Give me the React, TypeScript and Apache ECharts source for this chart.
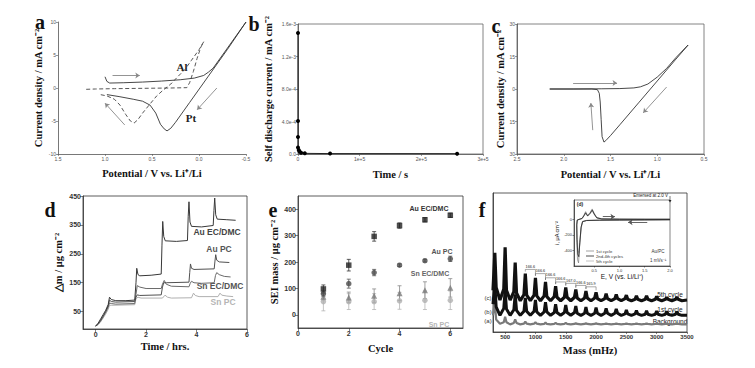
import React, { useEffect, useRef } from "react";
import * as echarts from "echarts";

const SERIF = "'Liberation Serif', 'Times New Roman', serif";
const SANS = "'Liberation Sans', Arial, sans-serif";

// ---------- Panel a : CV of Pt and Al ----------
const aPt: number[][] = [
  [1.0, 1.7], [0.98, 1.0], [0.95, 0.75], [0.8, 0.8], [0.6, 0.9], [0.4, 1.05], [0.2, 1.25], [0.05, 1.5],
  [-0.05, 1.9], [-0.1, 2.4], [-0.15, 3.0], [-0.25, 5.0], [-0.35, 7.0], [-0.5, 10.0],
  [-0.3, 5.8], [-0.1, 1.8], [0.1, -2.2], [0.25, -5.2], [0.3, -6.1], [0.34, -6.5], [0.37, -6.2],
  [0.41, -5.5], [0.46, -3.8], [0.52, -2.6], [0.6, -2.0], [0.7, -1.7], [0.85, -1.3], [0.98, -1.0],
];
const aAl: number[][] = [
  [1.2, -0.2], [1.1, -0.15], [0.9, -0.1], [0.6, -0.05], [0.3, 0], [0.13, 0.05], [0.1, 0.8], [0.06, 2.5],
  [0.02, 4.5], [-0.02, 6.2], [-0.05, 7.0], [0.0, 5.8], [0.08, 4.2], [0.15, 2.8], [0.22, 1.8], [0.3, 0.6],
  [0.38, -0.3], [0.45, -1.2], [0.52, -2.4], [0.6, -3.8], [0.65, -4.8], [0.69, -5.3], [0.73, -5.0],
  [0.78, -4.0], [0.84, -2.6], [0.9, -1.7], [0.98, -1.2], [1.05, -1.0],
];
const aArrows: number[][][] = [
  [[0.92, 1.9], [0.63, 1.9]],
  [[-0.19, 0.0], [0.02, -3.3]],
  [[0.79, -5.6], [1.0, -2.3]],
];
const aXTicks = [-0.5, 0, 0.5, 1.0, 1.5];
const aXLabels = ["-0.5", "0.0", "0.5", "1.0", "1.5"];
const aYTicks = [-10, -5, 0, 5, 10];
const aYLabels = ["-10", "-5", "0", "5", "10"];

// ---------- Panel b : self discharge ----------
const bPoints: number[][] = [
  [0, 1.49e-3], [0, 4.06e-4], [0, 2.1e-4], [0, 8e-5], [1200, 5e-5], [2500, 3e-5], [5000, 1.5e-5],
  [11000, 8e-6], [52000, 5e-6], [258000, 4e-6],
];
const bXTicks = [0, 1e5, 2e5, 3e5];
const bXLabels = ["0", "1e+5", "2e+5", "3e+5"];
const bYTicks = [0, 4e-4, 8e-4, 1.2e-3, 1.6e-3];
const bYLabels = ["0.0", "4.0e-4", "8.0e-4", "1.2e-3", "1.6e-3"];

// ---------- Panel c : CV ----------
const cCurve: number[][] = [
  [2.15, 0], [1.9, 0], [1.6, 0.1], [1.4, 0.2], [1.25, 0.5], [1.18, 1.0], [1.1, 2.3], [1.0, 5.5],
  [0.9, 9.5], [0.8, 14.5], [0.67, 20.3], [0.8, 13.8], [1.0, 3.7], [1.2, -6.4], [1.4, -16.5],
  [1.5, -21.5], [1.55, -23.8], [1.57, -24.5], [1.59, -22], [1.6, -14], [1.61, -6], [1.62, -2],
  [1.64, -0.3], [1.7, 0], [2.15, 0],
];
const cArrows: number[][][] = [
  [[1.9, 2.8], [1.43, 2.8]],
  [[0.9, 0.9], [1.15, -11]],
  [[1.69, -19], [1.71, -6.5]],
];
const cXTicks = [0.5, 1.0, 1.5, 2.0, 2.5];
const cXLabels = ["0.5", "1.0", "1.5", "2.0", "2.5"];
const cYTicks = [-30, -15, 0, 15, 30];
const cYLabels = ["30", "15", "0", "15", "30"];

// ---------- Panel d : mass change vs time ----------
const dAuEC: number[][] = [
  [0, 0], [0.1, 10], [0.2, 25], [0.3, 40], [0.4, 55], [0.5, 75], [0.55, 100], [0.62, 92], [0.8, 88],
  [1.2, 88], [1.55, 90], [1.6, 150], [1.63, 200], [1.68, 178], [1.75, 174], [2.2, 176], [2.6, 180],
  [2.63, 280], [2.66, 362], [2.7, 310], [2.76, 295], [3.2, 293], [3.64, 296], [3.67, 380], [3.7, 430],
  [3.74, 360], [3.8, 345], [4.2, 343], [4.66, 348], [4.69, 400], [4.72, 443], [4.76, 385], [4.82, 370],
  [5.2, 368], [5.55, 366],
];
const dAuPC: number[][] = [
  [0, 0], [0.1, 8], [0.2, 20], [0.3, 35], [0.4, 50], [0.5, 70], [0.55, 90], [0.62, 85], [0.8, 83],
  [1.55, 85], [1.6, 100], [1.65, 108], [1.75, 106], [2.6, 108], [2.65, 135], [2.7, 150], [2.8, 150],
  [3.7, 152], [3.73, 185], [3.76, 215], [3.8, 200], [3.9, 196], [4.7, 198], [4.73, 225], [4.76, 247],
  [4.8, 228], [4.9, 222], [5.3, 220],
];
const dSnEC: number[][] = [
  [0, 0], [0.1, 6], [0.2, 18], [0.3, 32], [0.4, 48], [0.5, 65], [0.55, 80], [0.62, 78], [0.8, 76],
  [1.55, 78], [1.6, 110], [1.65, 140], [1.75, 135], [2.0, 130], [2.6, 130], [2.65, 145], [2.72, 158],
  [2.8, 145], [3.0, 138], [3.7, 136], [3.75, 148], [3.8, 155], [3.9, 150], [4.2, 148], [4.7, 150],
  [4.75, 175], [4.8, 185], [4.9, 178], [5.1, 172], [5.35, 170],
];
const dSnPC: number[][] = [
  [0, 0], [0.1, 5], [0.2, 15], [0.3, 28], [0.4, 42], [0.5, 58], [0.55, 72], [0.62, 72], [1.55, 74],
  [1.6, 95], [1.68, 100], [1.8, 97], [2.65, 97], [2.75, 107], [2.85, 100], [3.0, 97], [3.8, 98],
  [3.88, 114], [3.95, 106], [4.1, 102], [4.85, 102], [4.93, 114], [5.0, 107], [5.2, 104], [5.45, 102],
];
const dXTicks = [0, 2, 4, 6];
const dXLabels = ["0", "2", "4", "6"];
const dYTicks = [50, 150, 250, 350, 450];
const dYLabels = ["50", "150", "250", "350", "450"];

// ---------- Panel e : SEI mass vs cycle ----------
const eCycles = [1, 2, 3, 4, 5, 6];
const eAuEC = [98, 188, 297, 338, 360, 377];
const eAuECErr = [15, 22, 18, 10, 8, 8];
const eAuPC = [80, 118, 160, 188, 205, 212];
const eAuPCErr = [10, 17, 12, 5, 5, 10];
const eSnEC = [68, 66, 72, 82, 93, 102];
const eSnECErr = [12, 20, 26, 28, 32, 35];
const eSnPC = [50, 50, 50, 53, 55, 55];
const eSnPCErr = [35, 30, 30, 32, 35, 35];
const eXTicks = [0, 2, 4, 6];
const eXLabels = ["0", "2", "4", "6"];
const eYTicks = [0, 100, 200, 300, 400];
const eYLabels = ["0", "100", "200", "300", "400"];

// ---------- Panel f : EQCM spectrum (mass axis, arbitrary intensity) ----------
const fMass = [
  300, 330, 352, 415,
  478, 500, 522, 583,
  644, 666, 688, 750,
  811, 833, 855, 916,
  978, 1000, 1022, 1083,
  1144, 1166, 1188, 1250,
  1311, 1333, 1355, 1416,
  1478, 1500, 1522, 1583,
  1644, 1666, 1688, 1750,
  1811, 1833, 1855, 1916,
  1978, 2000, 2022, 2083,
  2144, 2166, 2188, 2250,
  2311, 2333, 2355, 2416,
  2478, 2500, 2522, 2583,
  2644, 2666, 2688, 2750,
  2811, 2833, 2855, 2916,
  2978, 3000, 3022, 3083,
  3144, 3166, 3188, 3250,
  3311, 3333, 3355, 3416,
  3500,
];
const f5th = [
  30, 57, 32, 23,
  31, 61, 30, 23,
  29, 50, 28, 22.5,
  27, 42, 26.5, 22.5,
  26.5, 39, 26, 22.5,
  26, 36, 25.5, 22.5,
  25.5, 33, 25, 22.5,
  25, 32, 25, 22.5,
  25, 30.5, 24.5, 22.5,
  24.5, 29.5, 24.5, 22.5,
  24.5, 28.5, 24, 22.5,
  24, 27.5, 24, 22.5,
  24, 27, 24, 22.5,
  24, 26.5, 23.5, 22.5,
  23.5, 26, 23.5, 22.5,
  23.5, 26, 23.5, 22.5,
  23.5, 25.5, 23.5, 22.5,
  23.5, 25, 23.5, 22.5,
  23.5, 25, 23.5, 22.5,
  23,
];
const f1st = [
  20, 35, 18, 12,
  17, 30, 16.5, 12,
  16, 27, 15.5, 12,
  15, 24.5, 15, 12,
  15, 23, 14.5, 12,
  14.5, 21.5, 14.5, 12,
  14, 20, 14, 12,
  14, 19.5, 14, 12,
  14, 18.7, 13.5, 12,
  13.5, 18, 13.5, 12,
  13.5, 17.5, 13.5, 12,
  13.5, 17, 13.5, 12,
  13.5, 16.5, 13.5, 12,
  13, 15.8, 13, 12,
  13, 15.5, 13, 12,
  12.8, 15.2, 12.8, 12,
  12.8, 15, 12.8, 12,
  12.8, 14.8, 12.8, 12,
  12.8, 14.5, 12.8, 12,
  12,
];
const fBg = [
  12, 22, 9, 6,
  7, 11, 7, 5.5,
  6.5, 9, 6.5, 5.5,
  6, 7.5, 6, 5.5,
  6, 7, 6, 5.5,
  5.8, 6.8, 5.8, 5.5,
  5.8, 6.5, 5.8, 5.5,
  5.8, 6.5, 5.8, 5.5,
  5.8, 6.3, 5.8, 5.5,
  5.8, 6.2, 5.8, 5.5,
  5.8, 6.2, 5.8, 5.5,
  5.8, 6, 5.8, 5.5,
  5.8, 6, 5.8, 5.5,
  5.8, 6, 5.8, 5.5,
  5.8, 6, 5.8, 5.5,
  5.8, 6, 5.8, 5.5,
  5.8, 6, 5.8, 5.5,
  5.8, 6, 5.8, 5.5,
  5.8, 6, 5.8, 5.5,
  5.5,
];
const fSpacingFrom = [833, 1000, 1166, 1333, 1500, 1666, 1833];
const fSpacingTo = [1000, 1166, 1333, 1500, 1666, 1833, 2000];
const fSpacingLabels = ["166.6", "166.6", "166.6", "166.6", "167.0", "166.6", "165.9"];
const fXTicks = [500, 1000, 1500, 2000, 2500, 3000, 3500];
const fXLabels = ["500", "1000", "1500", "2000", "2500", "3000", "3500"];

// ---------- Panel f inset : CV on Au/PC ----------
const in1st: number[][] = [
  [2.0, -6], [1.5, -8], [1.0, -10], [0.6, -12], [0.35, -15], [0.27, -30], [0.24, -120], [0.21, -350],
  [0.19, -560], [0.17, -520], [0.155, -300], [0.15, -80], [0.16, -10], [0.2, 0], [0.26, 15], [0.3, 60],
  [0.33, 100], [0.37, 50], [0.42, 90], [0.46, 135], [0.5, 80], [0.55, 25], [0.65, 8], [1.0, 4], [1.5, 3], [2.0, 3],
];
const in2to4: number[][] = [
  [2.0, -4], [1.5, -6], [1.0, -8], [0.6, -10], [0.35, -14], [0.27, -28], [0.24, -100], [0.215, -300],
  [0.195, -480], [0.175, -450], [0.16, -260], [0.155, -70], [0.165, -8], [0.2, 0], [0.26, 12], [0.3, 50],
  [0.33, 85], [0.37, 45], [0.42, 80], [0.46, 120], [0.5, 70], [0.55, 20], [0.65, 6], [1.0, 3], [1.5, 2], [2.0, 2],
];
const in5th: number[][] = [
  [2.0, -2], [1.5, -4], [1.0, -6], [0.6, -8], [0.35, -12], [0.27, -25], [0.245, -90], [0.22, -260],
  [0.2, -430], [0.18, -400], [0.165, -230], [0.16, -60], [0.17, -6], [0.2, 0], [0.26, 10], [0.3, 45],
  [0.33, 75], [0.37, 40], [0.42, 70], [0.46, 110], [0.5, 60], [0.55, 18], [0.65, 5], [1.0, 2], [1.5, 1], [2.0, 1],
];
const inArrows: number[][][] = [
  [[0.67, 35], [0.91, 35]],
  [[1.55, -35], [1.17, -35]],
];
const inXTicks = [0.5, 1.0, 1.5, 2.0];
const inXLabels = ["0.5", "1.0", "1.5", "2.0"];
const inYTicks = [-400, -200, 0];
const inYLabels = ["-400", "-200", "0"];
const inLegend = ["1st cycle", "2nd-4th cycles", "5th cycle"];

// ---------- helpers ----------
const labelFor = (ticks: number[], labels: string[]) => (v: number) => {
  let best = 0;
  for (let i = 1; i < ticks.length; i++) {
    if (Math.abs(ticks[i] - v) < Math.abs(ticks[best] - v)) best = i;
  }
  return labels[best];
};

type AxOpt = {
  min: number; max: number; ticks?: number[]; labels?: string[]; inverse?: boolean;
  name?: string; nameGap?: number; vertical?: boolean; color?: string; fontSize?: number;
  bold?: boolean; showLabels?: boolean; showTicks?: boolean; tickLen?: number; nameSize?: number; nameFont?: string; nameWeight?: string;
};
const mkAxis = (gridIndex: number, o: AxOpt) => {
  const color = o.color || "#555";
  const ax: any = {
    gridIndex, type: "value", min: o.min, max: o.max, inverse: !!o.inverse,
    splitLine: { show: false },
    axisLine: { show: true, onZero: false, lineStyle: { color, width: 0.8 } },
    axisTick: {
      show: o.showTicks !== false, length: o.tickLen || 2, lineStyle: { color, width: 0.6 },
      customValues: o.ticks,
    },
    axisLabel: {
      show: o.showLabels !== false, fontSize: o.fontSize || 5, color, fontFamily: SANS,
      fontWeight: o.bold ? "bold" : "normal", margin: 2,
      customValues: o.ticks,
      formatter: o.ticks && o.labels ? labelFor(o.ticks, o.labels) : undefined,
    },
  };
  if (o.name) {
    ax.name = o.name;
    ax.nameLocation = "middle";
    ax.nameGap = o.nameGap ?? 15;
    if (o.vertical) ax.nameRotate = 90;
    ax.nameTextStyle = {
      fontFamily: o.nameFont || SERIF, fontWeight: o.nameWeight || "bold", fontSize: o.nameSize || 10.5, color: "#111",
    };
  }
  return ax;
};

const lineS = (xi: number, data: number[][], color: string, width = 1, dashed = false, extra: any = {}) => ({
  type: "line", xAxisIndex: xi, yAxisIndex: xi, data, showSymbol: false, symbol: "none",
  lineStyle: { color, width, type: dashed ? [4, 2.5] : "solid" }, silent: true, ...extra,
});

const arrowS = (xi: number, arrows: number[][][], color = "#888") => ({
  type: "lines", coordinateSystem: "cartesian2d", xAxisIndex: xi, yAxisIndex: xi,
  symbol: ["none", "arrow"], symbolSize: 4.5,
  lineStyle: { color, width: 0.9, opacity: 1 },
  data: arrows.map((c) => ({ coords: c })), silent: true,
});

const errS = (vals: number[], errs: number[], color: string) => ({
  type: "custom", xAxisIndex: 4, yAxisIndex: 4, silent: true,
  data: eCycles.map((c, i) => [c, vals[i], errs[i]]),
  encode: { x: 0, y: 1 },
  renderItem: (_p: any, api: any) => {
    const x = api.value(0), y = api.value(1), e = api.value(2);
    const lo = api.coord([x, y - e]);
    const hi = api.coord([x, y + e]);
    const st = { stroke: color, lineWidth: 0.8 };
    return {
      type: "group",
      children: [
        { type: "line", shape: { x1: lo[0], y1: lo[1], x2: hi[0], y2: hi[1] }, style: st },
        { type: "line", shape: { x1: lo[0] - 2, y1: lo[1], x2: lo[0] + 2, y2: lo[1] }, style: st },
        { type: "line", shape: { x1: hi[0] - 2, y1: hi[1], x2: hi[0] + 2, y2: hi[1] }, style: st },
      ],
    };
  },
});

const scatS = (vals: number[], color: string, symbol: string, size = 5.5) => ({
  type: "scatter", xAxisIndex: 4, yAxisIndex: 4, symbol, symbolSize: size, silent: true,
  itemStyle: { color }, data: eCycles.map((c, i) => [c, vals[i]]),
});

const pair = (xs: number[], ys: number[]) => xs.map((x, i) => [x, ys[i]]);
const heightAt = (m: number) => f5th[fMass.indexOf(m)];

const txt = (text: string, x: number, y: number, o: any = {}) => ({
  type: "text", x, y, silent: true,
  style: {
    text, fill: o.fill || "#111", fontSize: o.size || 8, fontFamily: o.font || SANS,
    fontWeight: o.weight || "normal", align: o.align || "center", verticalAlign: "middle",
    textAlign: o.align || "center", textVerticalAlign: "middle",
  },
});

function buildOption() {
  const grids = [
    { left: 58, top: 22, width: 188, height: 132 },
    { left: 298, top: 24, width: 185, height: 130, show: true, borderColor: "#666", borderWidth: 0.8 },
    { left: 517, top: 24, width: 187, height: 130, show: true, borderColor: "#666", borderWidth: 0.8 },
    { left: 83, top: 196, width: 164, height: 133, show: true, borderColor: "#333", borderWidth: 0.8 },
    { left: 298, top: 196, width: 165, height: 132, show: true, borderColor: "#333", borderWidth: 0.8 },
    { left: 493, top: 193, width: 194, height: 139, show: true, borderColor: "#333", borderWidth: 0.8 },
    { left: 574, top: 200, width: 96, height: 66, show: true, borderColor: "#333", borderWidth: 0.6, backgroundColor: "#fff" },
  ];

  const xAxis = [
    mkAxis(0, { min: -0.5, max: 1.5, inverse: true, ticks: aXTicks, labels: aXLabels, name: "Potential / V vs. Li⁺/Li", nameGap: 14 }),
    mkAxis(1, { min: 0, max: 3e5, ticks: bXTicks, labels: bXLabels, name: "Time / s", nameGap: 15 }),
    mkAxis(2, { min: 0.5, max: 2.5, inverse: true, ticks: cXTicks, labels: cXLabels, name: "Potential / V vs. Li⁺/Li", nameGap: 15 }),
    mkAxis(3, { min: -0.5, max: 6, ticks: dXTicks, labels: dXLabels, name: "Time / hrs.", nameGap: 12, color: "#333", fontSize: 7, bold: true, tickLen: 3 }),
    mkAxis(4, { min: 0, max: 6.5, ticks: eXTicks, labels: eXLabels, name: "Cycle", nameGap: 15, color: "#333", fontSize: 7, bold: true, tickLen: 3 }),
    mkAxis(5, { min: 300, max: 3500, ticks: fXTicks, labels: fXLabels, name: "Mass (mHz)", nameGap: 13, color: "#333", fontSize: 6, bold: true, tickLen: 2 }),
    mkAxis(6, { min: 0.1, max: 2.0, ticks: inXTicks, labels: inXLabels, name: "E, V (vs. Li/Li⁺)", nameGap: 6, color: "#333", fontSize: 4, tickLen: 1.5, nameSize: 6.5, nameFont: SANS, nameWeight: "normal" }),
  ];
  const yAxis = [
    mkAxis(0, { min: -10, max: 10, ticks: aYTicks, labels: aYLabels, name: "Current density / mA cm⁻²", nameGap: 14, vertical: true }),
    mkAxis(1, { min: 0, max: 1.6e-3, ticks: bYTicks, labels: bYLabels, name: "Self discharge current / mA cm⁻²", nameGap: 24, vertical: true }),
    mkAxis(2, { min: -30, max: 30, ticks: cYTicks, labels: cYLabels, name: "Current density / mA cm⁻²", nameGap: 9, vertical: true }),
    mkAxis(3, { min: -10, max: 450, ticks: dYTicks, labels: dYLabels, name: "△m / μg cm⁻²", nameGap: 19, vertical: true, color: "#333", fontSize: 7, bold: true, tickLen: 3 }),
    mkAxis(4, { min: -50, max: 450, ticks: eYTicks, labels: eYLabels, name: "SEI mass / μg cm⁻²", nameGap: 17, vertical: true, color: "#333", fontSize: 7, bold: true, tickLen: 3 }),
    mkAxis(5, { min: 0, max: 100, showLabels: false, showTicks: false, color: "#333" }),
    mkAxis(6, { min: -600, max: 250, ticks: inYTicks, labels: inYLabels, name: "i, μA cm⁻²", nameGap: 9, vertical: true, color: "#333", fontSize: 4, tickLen: 1.5, nameSize: 5.5, nameFont: SANS, nameWeight: "normal" }),
  ];

  const series: any[] = [
    // a
    lineS(0, aPt, "#333", 0.9),
    lineS(0, aAl, "#444", 0.9, true),
    arrowS(0, aArrows),
    // b
    lineS(1, bPoints, "#111", 0.9, false, { showSymbol: true, symbol: "circle", symbolSize: 4, itemStyle: { color: "#000" } }),
    // c
    lineS(2, cCurve, "#333", 0.9),
    arrowS(2, cArrows),
    // d
    lineS(3, dSnPC, "#b0b0b0", 1),
    lineS(3, dSnEC, "#6a6a6a", 1),
    lineS(3, dAuPC, "#505050", 1),
    lineS(3, dAuEC, "#383838", 1),
    // e
    errS(eSnPC, eSnPCErr, "#b5b5b5"),
    errS(eSnEC, eSnECErr, "#8a8a8a"),
    errS(eAuPC, eAuPCErr, "#555"),
    errS(eAuEC, eAuECErr, "#333"),
    scatS(eSnPC, "#b0b0b0", "circle"),
    scatS(eSnEC, "#7a7a7a", "triangle", 6),
    scatS(eAuPC, "#4a4a4a", "circle"),
    scatS(eAuEC, "#222", "rect", 5.5),
    // f
    lineS(5, pair(fMass, fBg), "#7a7a7a", 2.2),
    lineS(5, pair(fMass, f1st), "#111", 3),
    lineS(5, pair(fMass, f5th), "#111", 3.2),
    {
      type: "custom", xAxisIndex: 5, yAxisIndex: 5, silent: true,
      data: fSpacingFrom.map((m, i) => [m, fSpacingTo[i], heightAt(m), heightAt(fSpacingTo[i]), heightAt(m) + 3]),
      encode: { x: [0, 1], y: [2, 3, 4] },
      renderItem: (p: any, api: any) => {
        const m1 = api.value(0), m2 = api.value(1), h1 = api.value(2), h2 = api.value(3), hb = api.value(4);
        const a = api.coord([m1, h1]);
        const b = api.coord([m1, hb]);
        const c = api.coord([m2, hb]);
        const d = api.coord([m2, h2]);
        return {
          type: "group",
          children: [
            { type: "polyline", shape: { points: [[a[0], a[1] - 2], b, c, [d[0], d[1] - 2]] }, style: { stroke: "#555", lineWidth: 0.5, fill: "none" } },
            {
              type: "text",
              style: {
                text: fSpacingLabels[p.dataIndex], x: (b[0] + c[0]) / 2, y: b[1] - 0.5,
                fontSize: 3.8, fontFamily: SANS, fill: "#222", align: "center", verticalAlign: "bottom",
                textAlign: "center", textVerticalAlign: "bottom",
              },
            },
          ],
        };
      },
    },
    // inset
    lineS(6, in5th, "#aaa", 0.7),
    lineS(6, in1st, "#666", 0.6),
    lineS(6, in2to4, "#222", 0.8),
    arrowS(6, inArrows, "#555"),
  ];

  const serifBold = { font: SERIF, weight: "bold" };
  const graphic: any[] = [
    txt("a", 40, 22, { ...serifBold, size: 20 }),
    txt("b", 254, 24, { ...serifBold, size: 20 }),
    txt("c", 496, 26, { ...serifBold, size: 20 }),
    txt("d", 50, 210, { ...serifBold, size: 20 }),
    txt("e", 273, 210, { ...serifBold, size: 20 }),
    txt("f", 482, 210, { ...serifBold, size: 20 }),
    txt("Al", 182, 67, { ...serifBold, size: 11, fill: "#222" }),
    txt("Pt", 191, 118, { ...serifBold, size: 11, fill: "#222" }),
    txt("Au EC/DMC", 217, 232, { weight: "bold", size: 8.5, fill: "#444" }),
    txt("Au PC", 219, 249, { weight: "bold", size: 8.5, fill: "#555" }),
    txt("Sn EC/DMC", 220, 286, { weight: "bold", size: 8.5, fill: "#555" }),
    txt("Sn PC", 223, 302, { weight: "bold", size: 8.5, fill: "#b5b5b5" }),
    txt("Au EC/DMC", 429, 208, { weight: "bold", size: 7, fill: "#333" }),
    txt("Au PC", 442, 251, { weight: "bold", size: 7, fill: "#555" }),
    txt("Sn EC/DMC", 430, 273, { weight: "bold", size: 7, fill: "#666" }),
    txt("Sn PC", 439, 324, { weight: "bold", size: 7, fill: "#b5b5b5" }),
    txt("(c)", 488, 298, { size: 6, fill: "#333" }),
    txt("(b)", 488, 312, { size: 6, fill: "#333" }),
    txt("(a)", 488, 321, { size: 6, fill: "#333" }),
    txt("5th cycle", 670, 294, { size: 6.5, fill: "#222" }),
    txt("1st cycle", 670, 309, { size: 6.5, fill: "#222" }),
    txt("Background", 670, 321, { size: 6.5, fill: "#222" }),
    txt("(d)", 580, 204, { size: 5, weight: "bold", fill: "#222" }),
    txt("Emersed at 2.0 V", 668, 195, { size: 4.5, fill: "#222", align: "right" }),
    { type: "line", silent: true, shape: { x1: 670, y1: 196, x2: 670, y2: 201 }, style: { stroke: "#222", lineWidth: 0.6 } },
    { type: "polygon", silent: true, shape: { points: [[668.5, 200], [671.5, 200], [670, 202.5]] }, style: { fill: "#222" } },
    { type: "line", silent: true, shape: { x1: 586, y1: 251, x2: 594, y2: 251 }, style: { stroke: "#666", lineWidth: 0.6 } },
    { type: "line", silent: true, shape: { x1: 586, y1: 256, x2: 594, y2: 256 }, style: { stroke: "#222", lineWidth: 0.8 } },
    { type: "line", silent: true, shape: { x1: 586, y1: 261, x2: 594, y2: 261 }, style: { stroke: "#aaa", lineWidth: 0.7 } },
    txt(inLegend[0], 596, 251, { size: 4.2, fill: "#333", align: "left" }),
    txt(inLegend[1], 596, 256, { size: 4.2, fill: "#333", align: "left" }),
    txt(inLegend[2], 596, 261, { size: 4.2, fill: "#333", align: "left" }),
    txt("Au/PC", 658, 251, { size: 4.5, fill: "#333" }),
    txt("1 mVs⁻¹", 658, 260, { size: 4.5, fill: "#333" }),
  ];

  return { animation: false, backgroundColor: "#fff", grid: grids, xAxis, yAxis, series, graphic };
}

export default function App() {
  const ref = useRef<HTMLDivElement>(null);
  useEffect(() => {
    if (!ref.current) return;
    const chart = echarts.init(ref.current, null, { renderer: "svg" });
    chart.setOption(buildOption() as any);
    return () => chart.dispose();
  }, []);
  return (
    <div
      ref={ref}
      style={{ position: "absolute", left: 0, top: 0, width: 755, height: 368, background: "#fff" }}
    />
  );
}
